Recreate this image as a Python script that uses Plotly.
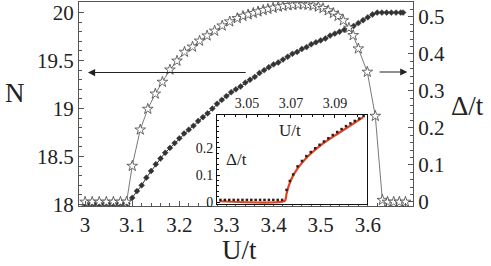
import plotly.graph_objects as go

# ---- main: gap Delta/t (stars, right axis) ----
delta_u = [3.000, 3.015, 3.030, 3.045, 3.060, 3.075, 3.088, 3.100, 3.117, 3.133,
           3.149, 3.164, 3.180, 3.195, 3.211, 3.228, 3.243, 3.259, 3.275, 3.291,
           3.307, 3.323, 3.335, 3.346, 3.357, 3.367, 3.378, 3.388, 3.399, 3.410,
           3.420, 3.431, 3.441, 3.452, 3.463, 3.473, 3.484, 3.495, 3.505, 3.516,
           3.527, 3.537, 3.548, 3.560, 3.569, 3.580, 3.599, 3.616, 3.631, 3.642,
           3.655, 3.667, 3.680]
delta_v = [0, 0, 0, 0, 0, 0, 0, 0.097, 0.195, 0.251,
           0.292, 0.324, 0.357, 0.381, 0.405, 0.419, 0.435, 0.449, 0.462, 0.476,
           0.487, 0.496, 0.502, 0.506, 0.510, 0.514, 0.518, 0.521, 0.524, 0.527,
           0.529, 0.531, 0.532, 0.533, 0.533, 0.532, 0.530, 0.527, 0.523, 0.517,
           0.510, 0.502, 0.490, 0.470, 0.450, 0.414, 0.351, 0.232, 0.005, 0,
           0, 0, 0]

# ---- main: particle number N (filled, left axis) ----
n_u = [3.00, 3.01, 3.02, 3.03, 3.04, 3.05, 3.06, 3.07, 3.08, 3.09,
       3.10, 3.11, 3.12, 3.13, 3.14, 3.15, 3.16, 3.17, 3.18, 3.19,
       3.20, 3.21, 3.22, 3.23, 3.24, 3.25, 3.26, 3.27, 3.28, 3.29,
       3.30, 3.31, 3.32, 3.33, 3.34, 3.35, 3.36, 3.37, 3.38, 3.39,
       3.40, 3.41, 3.42, 3.43, 3.44, 3.45, 3.46, 3.47, 3.48, 3.49,
       3.50, 3.51, 3.52, 3.53, 3.54, 3.55, 3.56, 3.57, 3.58, 3.59,
       3.60, 3.61, 3.62, 3.63, 3.64, 3.65, 3.66, 3.67, 3.675]
n_v = [18.0, 18.0, 18.0, 18.0, 18.0, 18.0, 18.0, 18.0, 18.0, 18.01,
       18.07, 18.14, 18.20, 18.28, 18.35, 18.42, 18.48, 18.54, 18.59, 18.64,
       18.69, 18.74, 18.78, 18.82, 18.87, 18.91, 18.95, 19.00, 19.05, 19.09,
       19.13, 19.17, 19.20, 19.23, 19.27, 19.30, 19.33, 19.37, 19.40, 19.43,
       19.46, 19.48, 19.51, 19.54, 19.57, 19.59, 19.62, 19.64, 19.67, 19.69,
       19.71, 19.73, 19.76, 19.78, 19.80, 19.82, 19.84, 19.86, 19.89, 19.92,
       19.95, 19.98, 20.00, 20.00, 20.00, 20.00, 20.00, 20.00, 20.00]

# ---- inset: data points and fit ----
ins_dot_u = [3.038, 3.040, 3.042, 3.044, 3.046, 3.048, 3.050, 3.052, 3.054, 3.056,
             3.058, 3.060, 3.062, 3.064, 3.066, 3.068, 3.0695, 3.071, 3.073, 3.075,
             3.077, 3.079, 3.081, 3.083, 3.085, 3.087, 3.089, 3.091, 3.093, 3.095,
             3.097, 3.099, 3.101, 3.103]
ins_dot_v = [0.008, 0.008, 0.008, 0.008, 0.008, 0.008, 0.008, 0.008, 0.008, 0.008,
             0.008, 0.008, 0.008, 0.008, 0.008, 0.045, 0.078, 0.102, 0.132, 0.152,
             0.170, 0.185, 0.199, 0.212, 0.224, 0.236, 0.248, 0.259, 0.270, 0.281,
             0.291, 0.300, 0.309, 0.318]
ins_fit_u = [3.0375, 3.0672, 3.0680, 3.0690, 3.0705, 3.0725, 3.0750, 3.0786, 3.0845,
             3.0909, 3.0968, 3.1027]
ins_fit_v = [0.003, 0.004, 0.030, 0.060, 0.090, 0.118, 0.145, 0.176, 0.216,
             0.251, 0.282, 0.313]

main_ticks = [3.0, 3.1, 3.2, 3.3, 3.4, 3.5, 3.6]
main_ticklabels = ["3", "3.1", "3.2", "3.3", "3.4", "3.5", "3.6"]
n_ticks = [18, 18.5, 19, 19.5, 20]
n_ticklabels = ["18", "18.5", "19", "19.5", "20"]
d_ticks = [0, 0.1, 0.2, 0.3, 0.4, 0.5]
d_ticklabels = ["0", "0.1", "0.2", "0.3", "0.4", "0.5"]
ins_xticks = [3.05, 3.07, 3.09]
ins_yticks = [0, 0.1, 0.2]

SERIF = "Liberation Serif, Times New Roman, serif"
FRAME = "#555555"
INK = "#222222"

fig = go.Figure()

fig.add_trace(go.Scatter(
    x=n_u, y=n_v, mode="lines+markers", xaxis="x", yaxis="y",
    line=dict(color="#333333", width=1),
    marker=dict(symbol="diamond", size=4.5, color="#333333",
                line=dict(width=0.5, color="#333333")),
    showlegend=False))

fig.add_trace(go.Scatter(
    x=delta_u, y=delta_v, mode="lines+markers", xaxis="x", yaxis="y2",
    line=dict(color="#555555", width=0.8),
    marker=dict(symbol="star", size=8, color="white",
                line=dict(width=0.8, color="#444444")),
    showlegend=False))

fig.add_trace(go.Scatter(
    x=ins_fit_u, y=ins_fit_v, mode="lines", xaxis="x3", yaxis="y3",
    line=dict(color="#e8401c", width=2.2, shape="spline", smoothing=0.6),
    showlegend=False))

fig.add_trace(go.Scatter(
    x=ins_dot_u, y=ins_dot_v, mode="markers", xaxis="x3", yaxis="y3",
    marker=dict(symbol="square", size=2.5, color="#222222"),
    showlegend=False))

tickfont = dict(family=SERIF, size=21, color=INK)
insfont = dict(family=SERIF, size=14, color=INK)

fig.update_layout(
    width=491, height=266,
    margin=dict(l=79, r=78, t=2, b=60),
    paper_bgcolor="white", plot_bgcolor="white",
    xaxis=dict(range=[2.987, 3.696], tickvals=main_ticks, ticktext=main_ticklabels,
               showgrid=False, zeroline=False, showline=True, linecolor=FRAME,
               linewidth=1, mirror=True, ticks="inside", ticklen=5, tickcolor=FRAME,
               minor=dict(ticks="inside", ticklen=3, dtick=0.02, tickcolor=FRAME),
               tickfont=tickfont, domain=[0, 1]),
    yaxis=dict(range=[17.985, 20.11], tickvals=n_ticks, ticktext=n_ticklabels,
               showgrid=False, zeroline=False, showline=True, linecolor=FRAME,
               linewidth=1, mirror=False, ticks="inside", ticklen=5, tickcolor=FRAME,
               minor=dict(ticks="inside", ticklen=3, dtick=0.1, tickcolor=FRAME),
               tickfont=tickfont),
    yaxis2=dict(range=[-0.011, 0.54], tickvals=d_ticks, ticktext=d_ticklabels,
                overlaying="y", side="right", anchor="x",
                showgrid=False, zeroline=False, showline=True, linecolor=FRAME,
                linewidth=1, ticks="inside", ticklen=5, tickcolor=FRAME,
                minor=dict(ticks="inside", ticklen=3, dtick=0.02, tickcolor=FRAME),
                tickfont=tickfont),
    xaxis3=dict(domain=[0.413, 0.862], anchor="y3", side="top",
                range=[3.0364, 3.1045], tickvals=ins_xticks,
                ticktext=["3.05", "3.07", "3.09"],
                showgrid=False, zeroline=False, showline=True, linecolor="#111111",
                linewidth=1, mirror=True, ticks="inside", ticklen=3, tickcolor="#111111",
                minor=dict(ticks="inside", ticklen=2, dtick=0.005, tickcolor="#111111"),
                tickfont=insfont, ticklabelstandoff=0),
    yaxis3=dict(domain=[0.01, 0.446], anchor="x3",
                range=[-0.007, 0.322], tickvals=ins_yticks,
                ticktext=["0", "0.1", "0.2"],
                showgrid=False, zeroline=False, showline=True, linecolor="#111111",
                linewidth=1, mirror=True, ticks="inside", ticklen=3, tickcolor="#111111",
                minor=dict(ticks="inside", ticklen=2, dtick=0.02, tickcolor="#111111"),
                tickfont=insfont),
)

def px2paper(px, py):
    return (px - 79) / 334.0, (206 - py) / 204.0

annots = []
for text, px, py, size in [("N", 15, 93, 27), ("Δ/t", 467, 106, 27),
                           ("U/t", 239, 250, 27), ("U/t", 290, 130, 17),
                           ("Δ/t", 236, 159, 17)]:
    xp, yp = px2paper(px, py)
    annots.append(dict(text=text, x=xp, y=yp, xref="paper", yref="paper",
                       showarrow=False, xanchor="center", yanchor="middle",
                       font=dict(family=SERIF, size=size, color=INK)))

# arrows
annots.append(dict(x=3.006, y=19.375, xref="x", yref="y",
                   ax=3.344, ay=19.375, axref="x", ayref="y", text="",
                   showarrow=True, arrowhead=2, arrowsize=1.3, arrowwidth=1.1,
                   arrowcolor="#222222"))
annots.append(dict(x=3.684, y=0.351, xref="x", yref="y2",
                   ax=3.622, ay=0.351, axref="x", ayref="y2", text="",
                   showarrow=True, arrowhead=2, arrowsize=1.3, arrowwidth=1.1,
                   arrowcolor="#222222"))
fig.update_layout(annotations=annots)

fig.write_html("out.html", config={"displayModeBar": False},
               post_script="document.body.style.margin='0px';")
